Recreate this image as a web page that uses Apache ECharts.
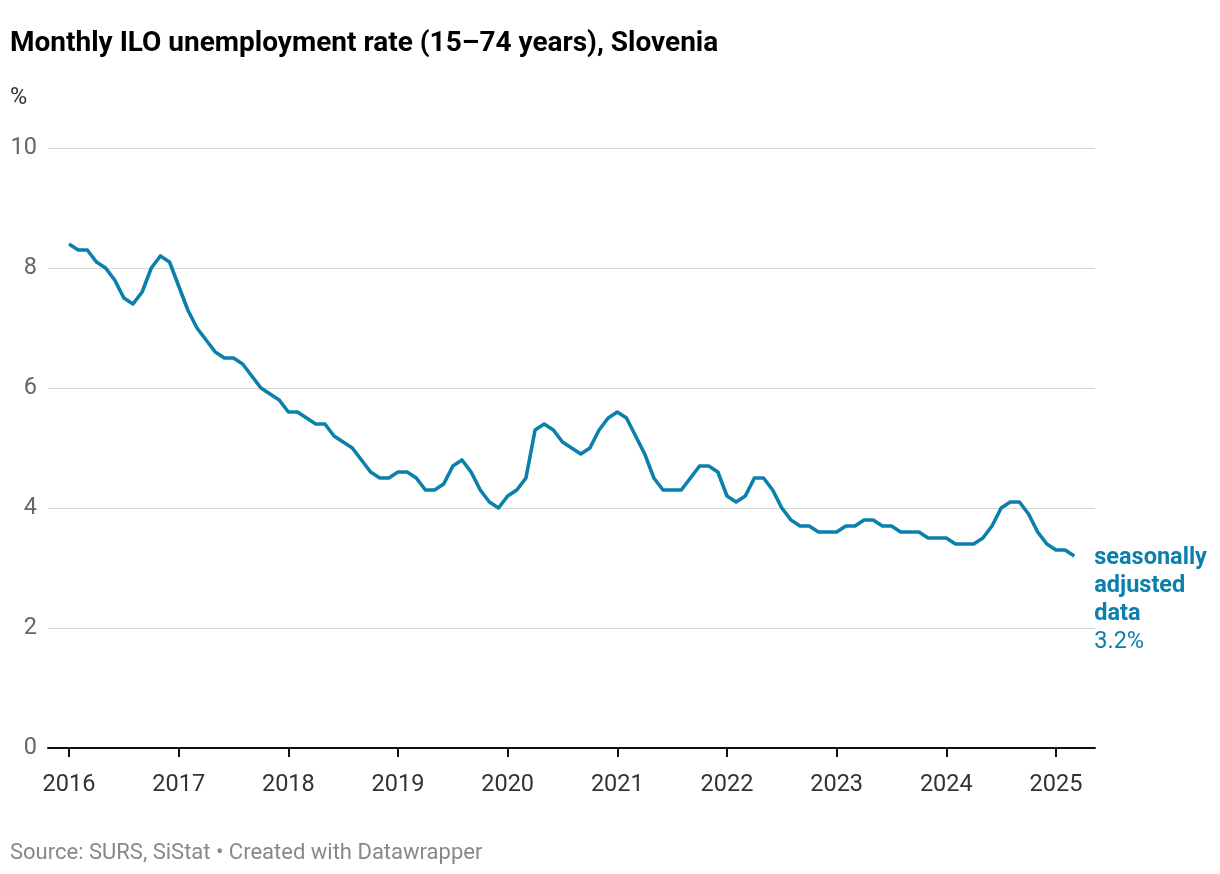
<!DOCTYPE html>
<html>
<head>
<meta charset="utf-8">
<script src="https://cdn.jsdelivr.net/npm/echarts@6/dist/echarts.min.js"></script>
<style>
html,body{margin:0;padding:0;background:#fff;}
#chart{width:1220px;height:874px;}
</style>
</head>
<body>
<div id="chart"></div>
<script>
// Monthly data, January 2016 to March 2025
const startYear = 2016;
const yearTicks = [2016, 2017, 2018, 2019, 2020, 2021, 2022, 2023, 2024, 2025];
const yTicks = [0, 2, 4, 6, 8, 10];
const rates = [
  8.4, 8.3, 8.3, 8.1, 8.0, 7.8, 7.5, 7.4, 7.6, 8.0, 8.2, 8.1,
  7.7, 7.3, 7.0, 6.8, 6.6, 6.5, 6.5, 6.4, 6.2, 6.0, 5.9, 5.8,
  5.6, 5.6, 5.5, 5.4, 5.4, 5.2, 5.1, 5.0, 4.8, 4.6, 4.5, 4.5,
  4.6, 4.6, 4.5, 4.3, 4.3, 4.4, 4.7, 4.8, 4.6, 4.3, 4.1, 4.0,
  4.2, 4.3, 4.5, 5.3, 5.4, 5.3, 5.1, 5.0, 4.9, 5.0, 5.3, 5.5,
  5.6, 5.5, 5.2, 4.9, 4.5, 4.3, 4.3, 4.3, 4.5, 4.7, 4.7, 4.6,
  4.2, 4.1, 4.2, 4.5, 4.5, 4.3, 4.0, 3.8, 3.7, 3.7, 3.6, 3.6,
  3.6, 3.7, 3.7, 3.8, 3.8, 3.7, 3.7, 3.6, 3.6, 3.6, 3.5, 3.5,
  3.5, 3.4, 3.4, 3.4, 3.5, 3.7, 4.0, 4.1, 4.1, 3.9, 3.6, 3.4,
  3.3, 3.3, 3.2
];
const seriesLabel = ['seasonally', 'adjusted', 'data'];

const points = rates.map((v, i) => [startYear + i / 12, v]);
const lineColor = '#0a80ab';
const font = 'Roboto, "Noto Sans", sans-serif';

const chart = echarts.init(document.getElementById('chart'), null, {renderer: 'canvas'});
chart.setOption({
  backgroundColor: '#ffffff',
  animation: false,
  title: [
    {
      text: 'Monthly ILO unemployment rate (15–74 years), Slovenia',
      left: 10, top: 30, padding: 0,
      textStyle: {fontFamily: font, fontSize: 28, fontWeight: 'bold', color: '#000'}
    },
    {
      text: '%',
      left: 10, top: 86, padding: 0,
      textStyle: {fontFamily: font, fontSize: 23.5, fontWeight: 'normal', color: '#333'}
    },
    {
      text: 'Source: SURS, SiStat • Created with Datawrapper',
      left: 10, top: 842, padding: 0,
      textStyle: {fontFamily: font, fontSize: 22, fontWeight: 'normal', color: '#888'}
    }
  ],
  grid: {left: 48, right: 125, top: 148, bottom: 126, containLabel: false, outerBoundsMode: 'none'},
  xAxis: {
    type: 'value',
    min: startYear - 2.3 / 12,
    max: startYear + 112.27 / 12,
    splitLine: {show: false},
    axisLine: {show: true, onZero: false, lineStyle: {color: '#111', width: 2}},
    axisTick: {show: true, customValues: yearTicks, length: 9, lineStyle: {color: '#111', width: 2}},
    axisLabel: {
      customValues: yearTicks,
      formatter: v => String(Math.round(v)),
      fontFamily: font, fontSize: 23.5, color: '#333', margin: 25
    }
  },
  yAxis: {
    type: 'value',
    min: 0, max: 10, interval: 2,
    axisLine: {show: false},
    axisTick: {show: false},
    splitLine: {show: true, lineStyle: {color: '#d6d6d6', width: 1.2}},
    axisLabel: {
      fontFamily: font, fontSize: 23.5, color: '#666', margin: 11,
      formatter: v => yTicks.includes(v) ? String(v) : ''
    }
  },
  series: [{
    type: 'line',
    data: points,
    showSymbol: false,
    symbol: 'none',
    lineStyle: {color: lineColor, width: 3.6, join: 'round'},
    z: 5,
    endLabel: {
      show: true,
      distance: 20,
      align: 'left',
      verticalAlign: 'top',
      offset: [0, -12],
      formatter: p => seriesLabel.map(s => '{b|' + s + '}').join('\n') + '\n{n|' + p.value[1].toFixed(1) + '%}',
      rich: {
        b: {fontFamily: font, fontSize: 23.5, fontWeight: 'bold', color: lineColor, lineHeight: 28},
        n: {fontFamily: font, fontSize: 23.5, fontWeight: 'normal', color: lineColor, lineHeight: 28}
      }
    }
  }]
});
</script>
</body>
</html>
